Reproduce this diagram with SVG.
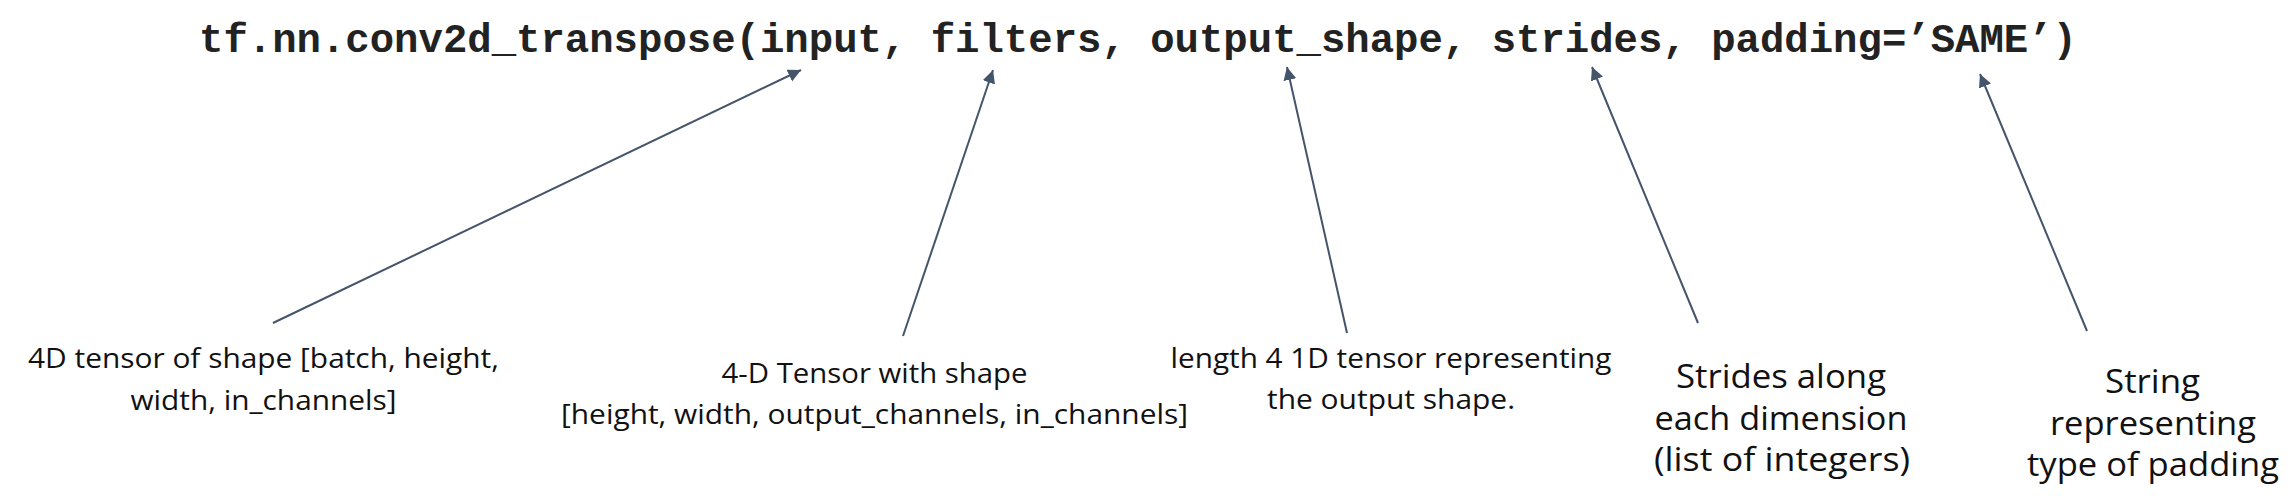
<svg xmlns="http://www.w3.org/2000/svg" width="2296" height="501" viewBox="0 0 2296 501">
<style>
.title{font-family:"Liberation Mono","Courier New",monospace;font-weight:bold;font-size:40.5px;fill:#222}
.lbl{font-family:"Open Sans","Liberation Sans",sans-serif;font-size:28px;fill:#111;text-anchor:middle}
.lbl2{font-family:"Open Sans","Liberation Sans",sans-serif;font-size:32px;fill:#111;text-anchor:middle}
.conn{fill:none;stroke:#44546A;stroke-width:2}
</style>
<defs>
<marker id="arr" markerUnits="userSpaceOnUse" markerWidth="14" markerHeight="14" refX="13" refY="6.5" orient="auto">
<path d="M0,0 L13,6.5 L0,13 z" fill="#44546A"/>
</marker>
</defs>
<rect width="2296" height="501" fill="#fff"/>
<g id="title">
<text class="title" x="199" y="52" textLength="1878" lengthAdjust="spacingAndGlyphs">tf.nn.conv2d_transpose(input, filters, output_shape, strides, padding=’SAME’)</text>
</g>
<g id="connectors">
<path class="conn" d="M273,323 L801,70" marker-end="url(#arr)"/>
<path class="conn" d="M903,336 L993,70" marker-end="url(#arr)"/>
<path class="conn" d="M1347,333 L1287,67" marker-end="url(#arr)"/>
<path class="conn" d="M1698,323 L1592,67" marker-end="url(#arr)"/>
<path class="conn" d="M2087,331 L1980,74" marker-end="url(#arr)"/>
</g>
<g id="label-input">
<text class="lbl" x="263.5" y="368" textLength="471" lengthAdjust="spacingAndGlyphs">4D tensor of shape [batch, height,</text>
<text class="lbl" x="263.5" y="410" textLength="266" lengthAdjust="spacingAndGlyphs">width, in_channels]</text>
</g>
<g id="label-filters">
<text class="lbl" x="874.5" y="383" textLength="306" lengthAdjust="spacingAndGlyphs">4-D Tensor with shape</text>
<text class="lbl" x="874.5" y="424" textLength="627" lengthAdjust="spacingAndGlyphs">[height, width, output_channels, in_channels]</text>
</g>
<g id="label-output-shape">
<text class="lbl" x="1391" y="368" textLength="441" lengthAdjust="spacingAndGlyphs">length 4 1D tensor representing</text>
<text class="lbl" x="1391" y="409" textLength="248" lengthAdjust="spacingAndGlyphs">the output shape.</text>
</g>
<g id="label-strides">
<text class="lbl2" x="1781" y="388" textLength="210" lengthAdjust="spacingAndGlyphs">Strides along</text>
<text class="lbl2" x="1781" y="430" textLength="253" lengthAdjust="spacingAndGlyphs">each dimension</text>
<text class="lbl2" x="1782" y="471" textLength="256" lengthAdjust="spacingAndGlyphs">(list of integers)</text>
</g>
<g id="label-padding">
<text class="lbl2" x="2152.5" y="393" textLength="95" lengthAdjust="spacingAndGlyphs">String</text>
<text class="lbl2" x="2153" y="435" textLength="206" lengthAdjust="spacingAndGlyphs">representing</text>
<text class="lbl2" x="2153" y="476" textLength="252" lengthAdjust="spacingAndGlyphs">type of padding</text>
</g>
</svg>
